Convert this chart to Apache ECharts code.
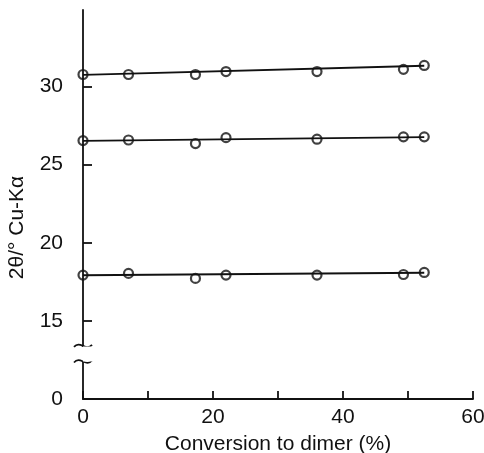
<!DOCTYPE html>
<html>
<head>
<meta charset="utf-8">
<script src="https://cdn.jsdelivr.net/npm/echarts@6/dist/echarts.min.js"></script>
<style>
  html, body { margin: 0; padding: 0; background: #fff; }
  #chart { width: 484px; height: 453px; }
</style>
</head>
<body>
<div id="chart"></div>
<script>
// Conversion to dimer (%) for each measured sample
const conversion = [0, 7, 17.3, 22, 36, 49.3, 52.5]

// 2θ peak positions (°, Cu-Kα)
const peakHigh = [30.77, 30.77, 30.77, 30.96, 30.96, 31.1, 31.35]
const peakMid  = [26.54, 26.58, 26.35, 26.73, 26.63, 26.78, 26.78]
const peakLow  = [17.93, 18.04, 17.72, 17.93, 17.93, 17.97, 18.1]

// Fitted straight lines (value at first and last conversion)
const fitX    = [0, 52.5]
const fitHigh = [30.75, 31.33]
const fitMid  = [26.52, 26.76]
const fitLow  = [17.92, 18.08]

const yTicks = [0, 15, 20, 25, 30]
const xTicks = [0, 10, 20, 30, 40, 50, 60]
const xTickLabels = [0, 20, 40, 60]

// Axis break between 0 and 15
const yBreak = { start: 2.4, end: 13.4, gap: 1.0 }

const FONT = 'Liberation Sans'
const INK = '#111'

function pairs(xs, ys) {
  return xs.map((x, i) => [x, ys[i]])
}

function pointSeries(ys) {
  return {
    type: 'scatter',
    data: pairs(conversion, ys),
    symbol: 'circle',
    symbolSize: 9,
    itemStyle: { color: 'rgba(0,0,0,0)', borderColor: INK, borderWidth: 2.2 },
    z: 3,
  }
}

function fitSeries(ys) {
  return {
    type: 'line',
    data: pairs(fitX, ys),
    symbol: 'none',
    lineStyle: { color: INK, width: 1.8 },
    z: 2,
  }
}

const chart = echarts.init(document.getElementById('chart'))

chart.setOption({
  animation: false,
  grid: { left: 83, right: 11, top: 10, bottom: 54, outerBoundsMode: 'none', containLabel: false },
  xAxis: {
    type: 'value',
    min: 0,
    max: 60,
    name: 'Conversion to dimer (%)',
    nameLocation: 'middle',
    nameGap: 35,
    nameTextStyle: { fontFamily: FONT, fontSize: 21, color: INK },
    axisLine: { lineStyle: { color: INK, width: 1.8 } },
    axisTick: { inside: true, length: 8, customValues: xTicks, lineStyle: { color: INK, width: 1.8 } },
    axisLabel: { fontFamily: FONT, fontSize: 21, color: INK, margin: 8, customValues: xTickLabels },
    splitLine: { show: false },
  },
  yAxis: {
    type: 'value',
    min: 0,
    max: 34.9,
    breaks: [yBreak],
    breakArea: {
      show: true,
      itemStyle: { color: '#fff', borderColor: 'rgba(0,0,0,0)', borderWidth: 0, opacity: 1 },
      zigzagAmplitude: 0,
      expandOnClick: false,
    },
    breakLabelLayout: { moveOverlap: false },
    name: '2θ/° Cu-Kα',
    nameLocation: 'middle',
    nameGap: 55,
    nameTextStyle: { fontFamily: FONT, fontSize: 21, color: INK, padding: [0, 46, 0, 0] },
    axisLine: { lineStyle: { color: INK, width: 1.8 } },
    axisTick: { inside: true, length: 9, customValues: yTicks.slice(1), lineStyle: { color: INK, width: 1.8 } },
    axisLabel: { fontFamily: FONT, fontSize: 21, color: INK, margin: 20, customValues: yTicks },
    splitLine: { show: false },
  },
  series: [
    fitSeries(fitHigh), fitSeries(fitMid), fitSeries(fitLow),
    pointSeries(peakHigh), pointSeries(peakMid), pointSeries(peakLow),
  ],
})

// Break marks on the y axis: two small tildes at the break edges
function tilde(x, y) {
  return {
    type: 'bezierCurve',
    shape: { x1: x - 9, y1: y + 1, cpx1: x - 3, cpy1: y - 6, cpx2: x + 3, cpy2: y + 6, x2: x + 9, y2: y - 1 },
    style: { stroke: INK, lineWidth: 1.8, fill: null },
    z: 10,
  }
}
const [ax, yTop] = chart.convertToPixel({ xAxisIndex: 0, yAxisIndex: 0 }, [0, yBreak.end])
const [, yBot] = chart.convertToPixel({ xAxisIndex: 0, yAxisIndex: 0 }, [0, yBreak.start])
chart.setOption({ graphic: [tilde(ax, yTop), tilde(ax, yBot)] })
</script>
</body>
</html>
